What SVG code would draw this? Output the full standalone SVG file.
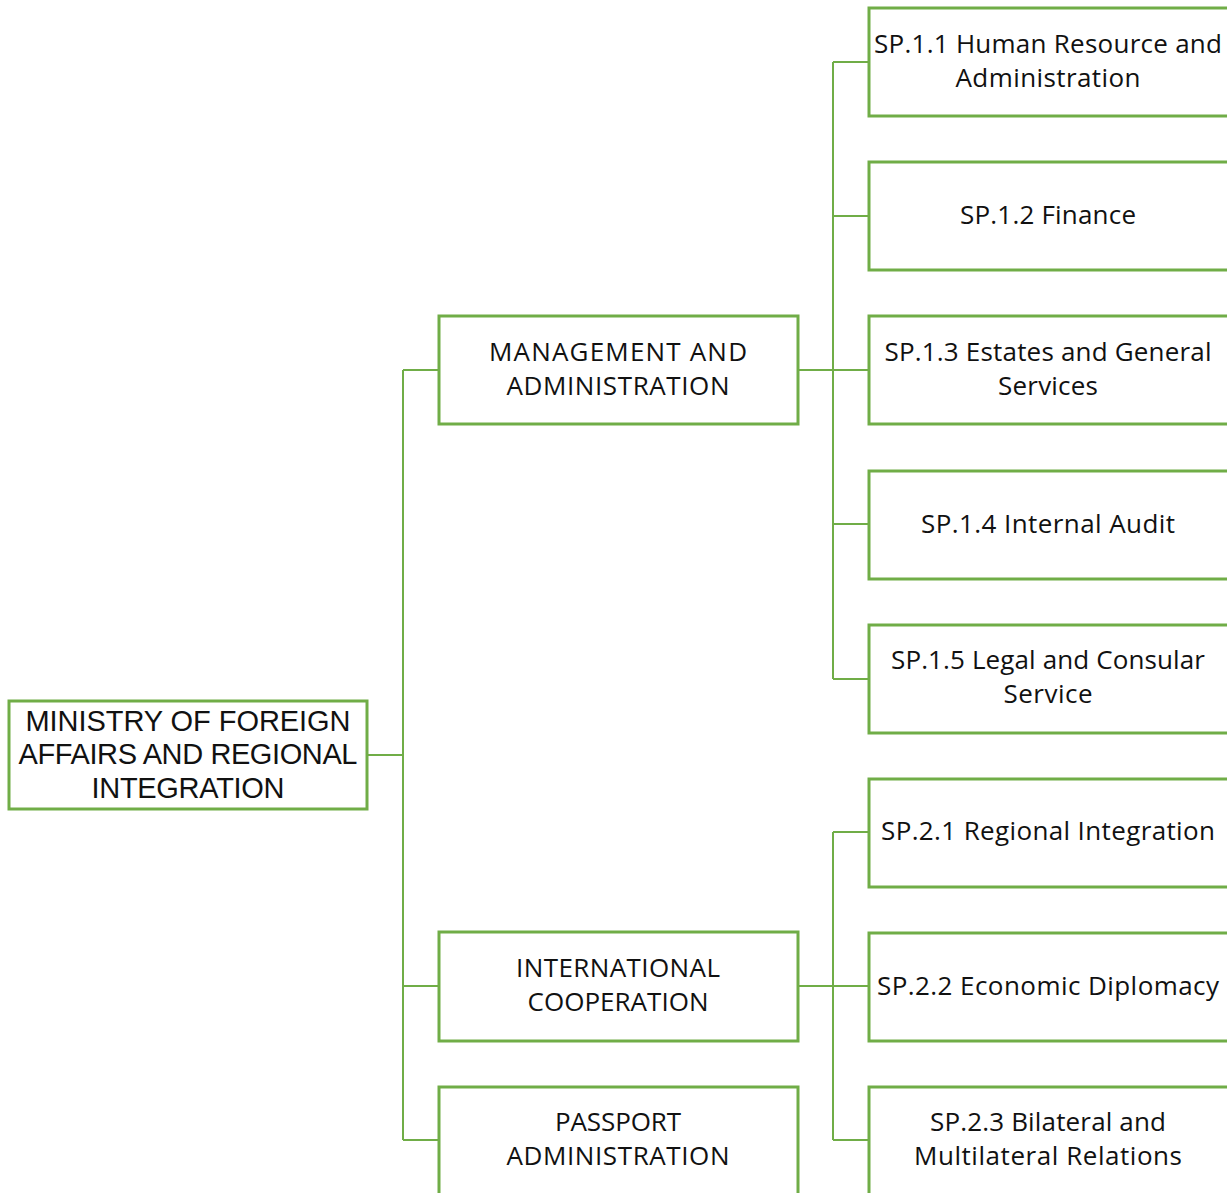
<svg xmlns="http://www.w3.org/2000/svg" width="1227" height="1193" viewBox="0 0 1227 1193">
<style>
.box{fill:#fff;stroke:#70AD47;stroke-width:3}
.con{fill:none;stroke:#70AD47;stroke-width:2}
.t{font-family:"Open Sans","Liberation Sans",sans-serif;font-size:26px;fill:#111;text-anchor:middle}
.m{font-family:"Liberation Sans",Arial,sans-serif;font-size:29px;fill:#111;text-anchor:middle}
</style>
<rect width="1227" height="1193" fill="#fff"/>
<g id="connectors">
<path class="con" d="M367 755H403M403 370V1140M403 370H439M403 986H439M403 1140H439"/>
<path class="con" d="M798 370H869M833 62V679M833 62H869M833 216H869M833 524H869M833 679H869"/>
<path class="con" d="M798 986H869M833 832V1140M833 832H869M833 1140H869"/>
</g>
<g id="ministry"><rect class="box" x="9" y="701" width="358" height="108"/>
<text class="m" x="188" y="731" textLength="325">MINISTRY OF FOREIGN</text>
<text class="m" x="188" y="764" textLength="339">AFFAIRS AND REGIONAL</text>
<text class="m" x="188" y="798" textLength="193">INTEGRATION</text></g>
<g id="mgmt"><rect class="box" x="439" y="316" width="359" height="108"/>
<text class="t" x="618" y="361" textLength="258">MANAGEMENT AND</text>
<text class="t" x="618" y="395" textLength="223">ADMINISTRATION</text></g>
<g id="intcoop"><rect class="box" x="439" y="932" width="359" height="109"/>
<text class="t" x="618" y="977" textLength="204">INTERNATIONAL</text>
<text class="t" x="618" y="1011" textLength="181">COOPERATION</text></g>
<g id="passport"><rect class="box" x="439" y="1087" width="359" height="120"/>
<text class="t" x="618" y="1131" textLength="126">PASSPORT</text>
<text class="t" x="618" y="1165" textLength="223">ADMINISTRATION</text></g>
<g id="sp11"><rect class="box" x="869" y="8" width="360" height="108"/>
<text class="t" x="1048" y="53" textLength="348">SP.1.1 Human Resource and</text>
<text class="t" x="1048" y="87" textLength="185">Administration</text></g>
<g id="sp12"><rect class="box" x="869" y="162" width="360" height="108"/>
<text class="t" x="1048" y="224" textLength="176">SP.1.2 Finance</text></g>
<g id="sp13"><rect class="box" x="869" y="316" width="360" height="108"/>
<text class="t" x="1048" y="361" textLength="327">SP.1.3 Estates and General</text>
<text class="t" x="1048" y="395" textLength="100">Services</text></g>
<g id="sp14"><rect class="box" x="869" y="471" width="360" height="108"/>
<text class="t" x="1048" y="533" textLength="254">SP.1.4 Internal Audit</text></g>
<g id="sp15"><rect class="box" x="869" y="625" width="360" height="108"/>
<text class="t" x="1048" y="669" textLength="314">SP.1.5 Legal and Consular</text>
<text class="t" x="1048" y="703" textLength="89">Service</text></g>
<g id="sp21"><rect class="box" x="869" y="779" width="360" height="108"/>
<text class="t" x="1048" y="840" textLength="334">SP.2.1 Regional Integration</text></g>
<g id="sp22"><rect class="box" x="869" y="933" width="360" height="108"/>
<text class="t" x="1048" y="995" textLength="342">SP.2.2 Economic Diplomacy</text></g>
<g id="sp23"><rect class="box" x="869" y="1087" width="360" height="120"/>
<text class="t" x="1048" y="1131" textLength="236">SP.2.3 Bilateral and</text>
<text class="t" x="1048" y="1165" textLength="268">Multilateral Relations</text></g>
</svg>
